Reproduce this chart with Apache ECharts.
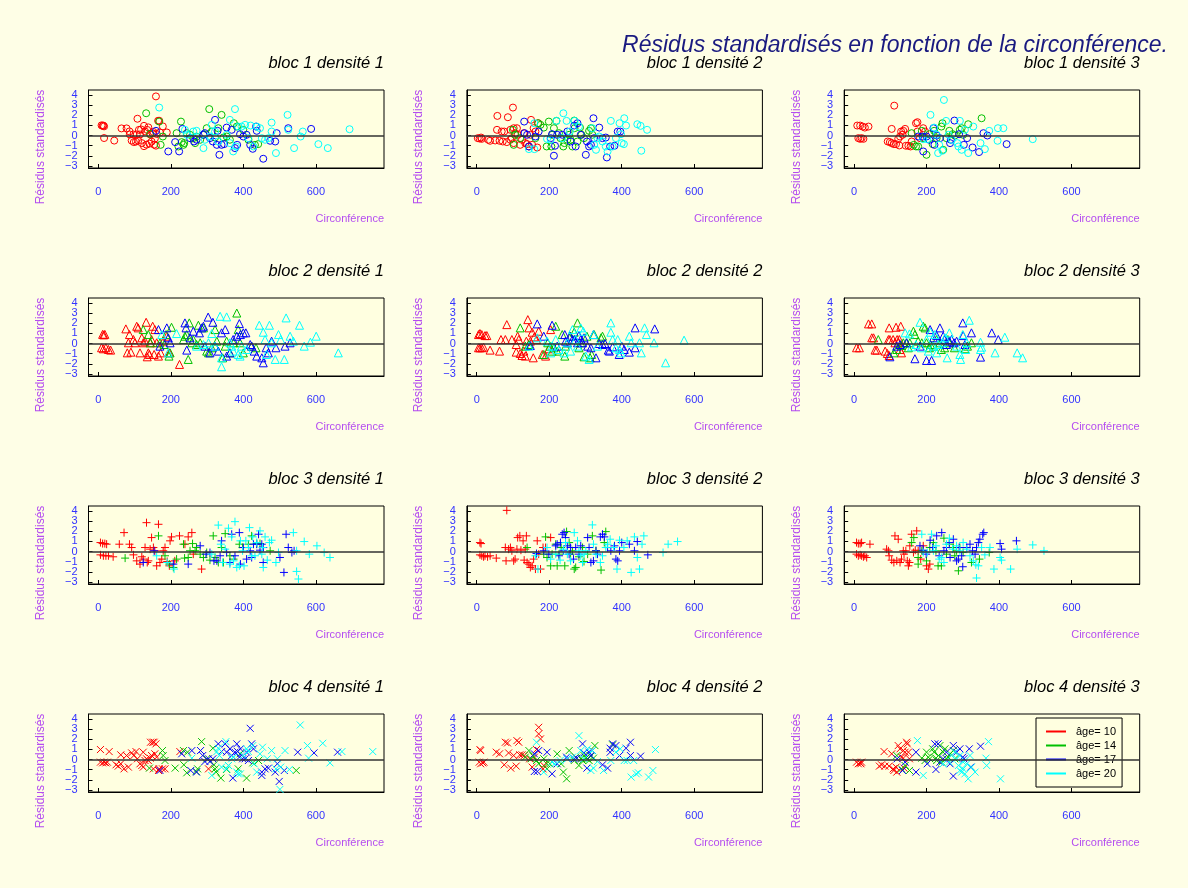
<!DOCTYPE html>
<html><head><meta charset="utf-8">
<script src="https://cdn.jsdelivr.net/npm/echarts@6.0.0/dist/echarts.min.js"></script>
<style>html,body{margin:0;padding:0;background:#fefee6}#c{width:1188px;height:888px}</style>
</head><body><div id="c"></div>
<script>
const mainTitle = 'Résidus standardisés en fonction de la circonférence.';
const xName = 'Circonférence';
const yName = 'Résidus standardisés';
const ages = ['âge= 10', 'âge= 14', 'âge= 17', 'âge= 20'];
const ageColors = ['#ff0000', '#00c000', '#0000ff', '#00ffff'];
const blocs = [1, 2, 3, 4];
const densites = [1, 2, 3];
const xTicks = [0, 200, 400, 600];
const yTicks = [-3, -2, -1, 0, 1, 2, 3, 4];

// bloc 1
const b1d1_a10 = [[9,1.0],[12,0.95],[14,0.98],[16,0.9],[16,-0.25],[44,-0.5],[64,0.7],[78,0.7],[86,0.4],[87,0.1],[92,-0.5],[97,0.1],[98,-0.65],[104,-0.6],[106,0.1],[108,1.65],[110,-0.5],[112,0.55],[115,0.1],[118,0.6],[120,-0.75],[126,0.95],[126,-1.05],[129,0.4],[133,-0.9],[135,0.55],[138,0.8],[141,-0.8],[143,0.1],[147,-0.6],[150,0.2],[152,0.35],[154,-0.9],[156,-0.3],[159,3.85],[159,-1.0],[161,0.15],[165,1.45],[168,1.45],[170,0.3],[178,0.9],[189,0.3]];
const b1d1_a14 = [[132,2.19],[143,0.16],[168,1.37],[172,-0.92],[178,-0.1],[216,0.23],[221,-1.08],[230,-0.65],[235,-0.92],[237,-0.75],[228,1.37],[244,0.23],[253,0.07],[262,-0.26],[267,-0.75],[271,-0.1],[281,-0.42],[290,0.07],[299,0.72],[306,2.6],[313,0.39],[322,-0.2],[331,0.72],[340,2.03],[345,-0.2],[354,-0.1],[363,-0.42],[374,1.21],[382,0.88],[400,0.56],[414,-0.42],[432,-0.92],[441,-0.85]];
const b1d1_a17 = [[159,0.46],[193,-1.57],[212,-0.65],[223,-1.57],[232,0.65],[253,-0.26],[264,-0.59],[271,-0.42],[290,0.07],[294,0.23],[308,-0.26],[316,-0.59],[322,1.54],[327,-0.92],[329,0.46],[334,-1.9],[340,-0.92],[347,-0.85],[354,0.78],[368,0.56],[377,-1.24],[383,-0.92],[391,0.13],[400,-0.1],[409,0.07],[419,-0.92],[426,-1.31],[435,0.88],[437,0.46],[455,-2.29],[474,-0.52],[488,-0.59],[492,0.23],[524,0.72],[587,0.65]];
const b1d1_a20 = [[168,2.75],[239,0.56],[244,0.07],[262,0.39],[271,0.46],[290,-1.24],[294,-0.42],[308,-0.1],[313,1.05],[322,0.39],[331,-0.59],[354,0.07],[363,1.54],[363,-0.75],[372,-1.57],[377,2.6],[380,-1.08],[386,0.88],[395,0.88],[405,1.05],[414,-0.26],[420,0.98],[428,-1.08],[437,0.88],[446,0.72],[451,-0.26],[460,-0.42],[469,-0.26],[478,1.27],[478,0.39],[490,-1.73],[522,2.03],[524,0.56],[540,-1.24],[558,-0.1],[564,0.39],[607,-0.85],[633,-1.24],[693,0.62]];
const b1d2_a10 = [[3,-0.26],[8,-0.3],[12,-0.2],[14,-0.33],[32,-0.42],[37,-0.52],[51,-0.49],[57,1.93],[63,-0.52],[72,-0.59],[76,0.39],[83,-0.65],[86,1.8],[93,-0.42],[97,-0.26],[100,2.75],[102,-0.75],[111,0.72],[113,0.07],[120,-0.92],[125,-0.42],[130,0.23],[134,-0.75],[139,-0.85],[144,-1.08],[148,0.07],[150,1.54],[153,-0.92],[157,0.72],[162,0.39],[167,-1.18],[170,1.21],[56,0.56],[69,0.39],[93,0.56],[102,0.72],[106,0.23]];
const b1d2_a14 = [[100,0.56],[102,-0.92],[106,0.07],[120,-0.26],[162,-0.26],[169,1.21],[176,1.05],[185,0.78],[193,-1.08],[199,1.37],[206,-1.08],[208,0.07],[213,0.72],[220,1.44],[227,0.23],[231,-0.26],[239,-1.08],[242,-0.75],[250,-0.42],[255,0.07],[259,-0.42],[264,-1.08],[269,1.47],[270,0.72],[278,-0.59],[285,0.78],[289,0.07],[296,-0.26],[310,0.46],[315,0.72],[319,0.07]];
const b1d2_a17 = [[131,1.37],[132,0.23],[139,0.07],[144,-1.08],[162,-0.1],[171,0.39],[204,-0.26],[208,0.13],[213,-1.99],[216,-1.01],[222,0.07],[236,0.07],[250,0.39],[259,-0.59],[269,0.98],[273,-1.08],[278,1.21],[287,0.07],[301,-1.9],[304,-0.59],[310,-1.08],[315,-0.92],[322,1.7],[324,-0.26],[338,0.78],[347,-0.26],[356,-0.2],[359,-2.16],[368,-1.08],[380,-1.01],[389,0.39],[396,0.39]];
const b1d2_a20 = [[144,-1.34],[159,-1.34],[159,1.21],[194,-0.33],[204,-0.42],[220,1.44],[236,-0.26],[239,2.19],[248,1.44],[257,0.39],[270,1.44],[282,0.88],[319,0.72],[324,-0.92],[329,-1.41],[333,-0.26],[338,-0.1],[347,-0.59],[356,-1.08],[361,-1.57],[370,1.44],[375,-1.08],[384,-0.26],[394,1.21],[398,0.13],[400,-0.75],[406,-0.85],[407,1.7],[412,0.98],[443,1.11],[452,0.95],[470,0.56],[454,-1.5]];
const b1d3_a10 = [[9,0.98],[17,0.98],[24,0.88],[30,0.78],[40,0.88],[12,-0.26],[17,-0.33],[21,-0.26],[26,-0.33],[93,-0.59],[99,-0.65],[104,-0.75],[110,-0.85],[116,-0.85],[104,0.65],[111,2.94],[122,-0.33],[125,-0.98],[127,-0.1],[130,0.39],[134,0.07],[136,0.46],[141,0.65],[143,-1.01],[150,-1.01],[156,-1.08],[159,-0.59],[171,1.21],[175,1.31],[175,0.39],[182,-0.26],[191,0.72],[196,0.39]];
const b1d3_a14 = [[159,0.23],[165,-0.92],[171,-1.08],[177,-1.08],[187,0.46],[191,-0.26],[200,-1.9],[208,0.13],[217,-0.85],[221,0.46],[228,-0.26],[241,0.88],[244,1.21],[246,-1.41],[255,-0.26],[263,0.46],[272,0.13],[278,0],[292,0.56],[297,0.72],[301,0.07],[315,1.11],[352,1.7]];
const b1d3_a17 = [[177,-0.1],[189,-0.1],[191,-1.57],[200,-0.1],[208,-0.42],[219,0.72],[222,-0.92],[228,0],[237,-0.26],[265,-0.75],[267,-0.42],[277,1.47],[290,0.13],[303,-0.92],[312,-0.26],[327,-1.18],[345,-1.63],[357,0.23],[368,0],[421,-0.85]];
const b1d3_a20 = [[191,-0.36],[202,-0.36],[211,2.03],[221,0.78],[228,0.07],[232,-1.73],[235,-0.92],[244,-1.5],[248,3.5],[254,1.44],[261,0.07],[270,-0.42],[285,-0.75],[288,-1.08],[292,1.44],[297,-1.41],[306,0.56],[315,-1.73],[329,0.88],[349,-0.75],[361,-1.34],[373,0.46],[396,-0.52],[397,0.72],[412,0.72],[493,-0.36]];
// bloc 2
const b2d1_a10 = [[12,0.9],[15,0.85],[18,0.9],[9,-0.42],[14,-0.52],[21,-0.42],[28,-0.59],[34,-0.65],[76,1.44],[83,0.07],[86,0.88],[80,-0.92],[90,-0.85],[97,0.39],[101,0.07],[106,1.7],[110,1.54],[115,-0.92],[120,0.56],[124,0.07],[129,0.23],[132,2.09],[135,-1.31],[138,-0.92],[141,-1.08],[143,0.07],[147,0.39],[150,1.7],[154,-1.08],[156,1.37],[161,0.07],[166,-1.24],[172,-0.92],[179,0.23],[189,0.72],[196,-0.92],[224,-2.06]];
const b2d1_a14 = [[124,1.37],[138,0.88],[144,0.07],[170,0.07],[182,-0.1],[187,0.88],[195,-1.24],[202,1.6],[198,-0.92],[235,0.39],[239,0.72],[244,0.88],[248,-1.57],[251,2.03],[258,0.07],[262,0.39],[271,-0.1],[276,1.8],[281,0.07],[290,1.54],[299,-0.75],[304,-0.92],[313,-0.42],[322,1.37],[327,0.23],[343,-1.41],[350,-0.26],[354,0.23],[363,-0.92],[373,0.07],[382,3.0],[386,1.37],[391,0.07],[400,-0.92],[423,-0.26],[435,-0.42]];
const b2d1_a17 = [[166,1.37],[170,-0.26],[189,1.54],[193,0.56],[198,0.07],[239,2.03],[242,1.54],[244,-0.65],[253,0.56],[262,1.21],[279,1.05],[285,1.54],[290,1.7],[294,-0.26],[303,2.6],[308,-0.92],[316,2.09],[322,-0.26],[331,-0.75],[340,1.05],[350,1.37],[354,-1.24],[363,-0.92],[372,0.39],[382,0.72],[389,1.96],[392,0.88],[400,1.05],[407,1.05],[419,-0.1],[423,-0.26],[430,-0.75],[437,-1.24],[451,-1.41],[455,-1.9],[463,-0.42],[469,-0.92],[478,0.23],[490,-0.42],[515,-0.26],[529,0.07]];
const b2d1_a20 = [[175,0.88],[193,-0.92],[216,0.98],[271,-0.26],[290,-0.1],[304,0.07],[313,0.98],[322,-0.26],[336,2.68],[340,-2.29],[340,-1.41],[354,2.62],[363,0.07],[368,-0.26],[372,-0.75],[386,-1.08],[391,-1.24],[395,-0.26],[409,-0.59],[444,1.8],[455,1.11],[460,0.39],[464,-1.08],[472,1.8],[478,0.07],[488,-1.57],[497,0.88],[503,0.39],[513,-1.57],[518,2.52],[529,0.72],[538,0.23],[555,1.8],[568,-0.26],[585,0.13],[601,0.72],[662,-0.92]];
const b2d2_a10 = [[5,0.88],[9,0.98],[14,0.88],[23,0.78],[28,0.78],[5,-0.42],[9,-0.42],[14,-0.42],[19,-0.36],[37,-0.65],[63,-0.75],[67,0.39],[79,0.39],[83,1.86],[97,0.39],[109,-0.1],[109,-0.85],[113,0.72],[116,0.39],[120,-0.98],[125,-1.18],[130,-0.75],[134,-1.24],[137,0.23],[141,2.35],[144,1.54],[148,0.23],[153,1.11],[156,-1.41],[159,0.65],[165,0.39],[171,1.21],[181,-1.08],[190,-1.24],[199,-0.52],[204,1.37]];
const b2d2_a14 = [[120,1.54],[134,-0.26],[144,-0.1],[185,-1.08],[196,0.07],[202,-0.26],[208,-0.75],[213,-0.42],[218,1.7],[222,-0.75],[236,0.88],[243,-1.24],[245,-0.26],[250,0.07],[259,0.72],[269,1.11],[278,2.03],[282,-0.42],[287,0.07],[296,-1.31],[304,0.72],[313,-1.41],[317,-1.08],[324,0.88],[343,0.56],[347,0.72]];
const b2d2_a17 = [[148,-0.2],[167,1.93],[185,0.72],[208,1.8],[222,-0.26],[243,0.88],[245,0.23],[250,0.07],[257,0.72],[264,0.39],[270,0.39],[278,0.07],[282,0.78],[287,0.39],[292,0.07],[296,0.56],[306,-0.26],[315,-0.42],[322,0.88],[329,-1.41],[338,0],[347,-0.1],[354,0],[363,-0.65],[366,-0.75],[375,-0.33],[393,-1.08],[400,-0.26],[407,-0.59],[421,-0.85],[437,1.54],[437,-0.42],[491,1.44]];
const b2d2_a20 = [[144,-0.26],[167,0.56],[194,0.23],[204,-0.92],[208,-0.26],[218,0.39],[227,-0.59],[241,-0.92],[250,0.07],[259,-0.75],[264,1.37],[273,0.39],[278,-0.26],[287,1.54],[294,1.21],[301,-1.24],[310,-1.57],[322,0.88],[333,-0.26],[370,2.03],[370,1.11],[375,0.39],[384,-0.42],[389,0.39],[394,-0.59],[398,-0.92],[421,0.72],[426,0.07],[449,0.07],[454,-0.92],[463,1.54],[468,0.88],[489,0.07],[521,-1.9],[572,0.33]];
const b2d3_a10 = [[7,-0.42],[15,-0.42],[40,1.93],[49,1.93],[49,0.56],[54,0.56],[58,-0.65],[63,-0.65],[86,-0.75],[92,-0.98],[97,-1.18],[97,1.54],[108,0.39],[116,1.6],[119,0.39],[125,0.39],[129,1.7],[131,-0.92],[95,0.39],[99,0.39],[113,0.07],[122,0.07],[127,-0.59]];
const b2d3_a14 = [[67,0.39],[110,-0.92],[118,-0.59],[131,-0.2],[136,0.07],[145,0.07],[150,-0.42],[154,0.07],[164,1.21],[168,0.88],[177,0.23],[187,0.07],[191,1.7],[196,1.54],[200,0.07],[208,-0.42],[211,-0.1],[219,-0.26],[228,0.39],[237,0.07],[241,-0.59],[250,-0.42],[259,0.39],[263,0.07],[277,-0.42],[306,-0.52],[313,-0.26],[324,0.07]];
const b2d3_a17 = [[99,-1.31],[118,-0.26],[127,-0.1],[145,0.07],[168,-1.5],[182,-0.26],[200,-1.67],[214,-1.67],[210,1.37],[219,0.56],[228,0.78],[237,1.54],[246,0.72],[250,0.39],[255,-0.1],[263,0.23],[269,0.39],[276,0.07],[283,0.23],[300,2.03],[301,0.78],[306,-0.1],[324,1.05],[349,-1.34],[380,1.05],[398,0.39]];
const b2d3_a20 = [[141,1.05],[153,0.95],[159,-0.33],[171,-0.1],[182,2.09],[186,-0.42],[200,0.39],[205,-0.75],[211,1.11],[219,-0.26],[223,0.88],[228,-0.92],[232,-0.1],[244,0.07],[251,0.56],[257,-1.41],[263,1.05],[283,-0.26],[292,-1.08],[294,-1.57],[300,0.88],[308,-0.59],[311,0.07],[318,2.29],[349,0.13],[349,-0.59],[352,-0.36],[389,-0.92],[416,0.62],[450,-0.92],[465,-1.41]];
// bloc 3
const b3d1_a10 = [[6,0.88],[12,0.78],[18,0.78],[23,0.72],[6,-0.33],[14,-0.42],[21,-0.42],[28,-0.42],[41,-0.52],[58,0.72],[71,1.86],[86,0.72],[92,0.39],[97,-0.33],[106,-0.92],[115,-1.24],[120,-0.52],[124,-0.75],[129,0.39],[133,2.84],[135,-1.08],[138,-0.92],[143,0.23],[147,1.37],[152,0.39],[156,0.07],[161,-1.41],[166,2.68],[170,-1.08],[175,-0.75],[179,0.07],[184,0.39],[190,-0.98],[196,-1.41],[198,1.05],[202,1.44],[211,-0.92],[224,1.54],[239,0.72],[248,1.44],[258,1.86],[262,-0.26],[285,-1.73]];
const b3d1_a14 = [[74,-0.65],[166,1.54],[184,-0.42],[196,-1.24],[207,-1.57],[216,-0.75],[235,0.72],[238,-0.65],[248,-0.59],[253,0.07],[260,0.78],[267,0.07],[271,0.39],[281,-0.26],[290,-0.59],[299,-0.1],[308,-0.85],[317,1.54],[322,-0.59],[331,-1.08],[340,0.39],[345,-1.08],[350,1.76],[363,-0.42],[373,-0.75],[389,0.72],[398,0.39],[414,0.72],[423,1.54],[437,0.78],[446,0.78],[474,0.07]];
const b3d1_a17 = [[124,-1.08],[154,0.07],[207,-1.24],[248,-1.24],[281,0.56],[297,-0.26],[308,-0.1],[319,-0.92],[327,-0.92],[336,-0.42],[340,1.05],[354,-0.1],[363,-1.08],[368,1.7],[377,-0.42],[389,1.86],[392,-1.24],[400,0.39],[409,-0.75],[419,0.07],[423,-0.59],[428,0.72],[437,0.72],[442,1.7],[446,0.13],[451,0.72],[455,-1.08],[455,0.39],[501,-0.59],[512,-2.06],[518,1.7],[524,0.39],[534,-0.1],[540,0.07]];
const b3d1_a20 = [[161,-0.42],[190,-1.08],[209,-1.73],[313,-0.26],[331,2.6],[338,0.72],[343,-1.08],[350,0.23],[359,2.29],[363,-1.24],[368,1.44],[373,-0.92],[377,2.94],[382,-1.57],[389,-1.41],[392,1.05],[398,0.07],[402,-1.41],[407,1.05],[414,0.39],[417,2.35],[423,-0.42],[426,1.44],[432,-0.42],[437,0.88],[446,2.03],[451,-0.26],[453,0.39],[455,-1.57],[460,1.44],[466,-0.85],[472,0.88],[478,1.11],[490,-1.08],[497,-0.1],[538,1.86],[547,0.07],[568,0.98],[582,-0.26],[603,0.56],[623,-0.1],[639,-0.59],[547,-1.96],[552,-2.71]];
const b3d2_a10 = [[9,0.88],[12,0.78],[9,-0.33],[14,-0.42],[19,-0.52],[23,-0.42],[30,-0.52],[37,-0.42],[54,-0.65],[83,4.05],[79,0.39],[81,-0.92],[88,0.23],[93,0.39],[97,0.07],[102,-0.92],[106,-0.75],[111,0.23],[113,1.37],[119,1.54],[122,0.13],[128,1.05],[131,-0.85],[134,0.23],[137,1.54],[139,-1.08],[144,-1.24],[148,-1.57],[153,-1.41],[157,-0.75],[162,-1.73],[167,1.05],[171,-0.26],[176,-1.73],[183,0.39],[190,0.39],[204,1.37]];
const b3d2_a14 = [[139,0.39],[185,-0.26],[190,1.44],[194,-0.59],[204,-1.41],[208,-0.26],[218,0.72],[222,-1.41],[227,-0.26],[233,0.39],[243,-1.41],[248,1.96],[255,0.88],[259,-0.26],[264,0.07],[269,-1.73],[273,-1.57],[282,-0.52],[292,0.39],[296,-0.98],[306,-0.26],[319,1.54],[329,0.07],[343,-1.83],[352,0.88],[356,1.96]];
const b3d2_a17 = [[165,-0.2],[185,0.07],[199,-0.26],[218,0.56],[222,0.72],[227,-0.42],[231,0.88],[236,1.7],[239,0.07],[241,1.86],[245,1.37],[250,0.56],[255,-0.26],[259,0.39],[267,-0.75],[273,0.39],[282,-0.26],[287,0.56],[306,1.37],[310,0.39],[315,-1.08],[322,-0.92],[329,0.07],[333,-0.26],[341,1.44],[347,1.7],[352,1.44],[361,0.39],[370,0.07],[380,0.56],[384,-0.75],[389,-0.92],[394,0.07],[400,0.88],[421,0.72],[435,0.07],[443,0.98],[472,-0.33]];
const b3d2_a20 = [[162,-0.42],[169,-1.73],[194,0.39],[204,-0.75],[218,-0.26],[230,-0.85],[239,0.23],[245,0.88],[250,-0.26],[259,-0.92],[269,1.86],[278,1.05],[282,0.07],[287,-0.42],[292,-1.08],[296,-0.26],[301,0.07],[319,2.62],[322,0.72],[329,-0.26],[341,-1.08],[347,-0.42],[356,0.39],[361,0.72],[368,1.21],[378,0.39],[387,-1.73],[394,1.11],[406,0.39],[415,1.05],[426,-2.06],[435,1.44],[443,-0.59],[449,-1.73],[456,0.72],[461,1.54],[514,-0.1],[528,0.72],[554,0.98]];
const b3d3_a10 = [[7,0.88],[12,0.78],[17,0.78],[21,0.88],[44,0.72],[7,-0.26],[12,-0.42],[17,-0.33],[21,-0.42],[26,-0.52],[30,-0.42],[35,-0.59],[90,0.23],[95,0.07],[97,-0.42],[104,-0.85],[110,-1.08],[113,1.54],[118,-0.92],[122,1.21],[127,-1.08],[131,-0.75],[136,0.07],[138,-0.26],[143,0.07],[147,-0.92],[150,-1.41],[153,-1.08],[154,0.56],[159,1.7],[164,-0.1],[169,0.13],[173,2.03],[177,0.07],[184,-0.75],[191,0.56],[200,-1.41],[205,-1.73],[209,-1.24]];
const b3d3_a14 = [[159,0.88],[165,1.37],[177,-0.59],[177,-1.24],[187,0.07],[200,-0.92],[209,0.39],[219,0.88],[226,0.07],[232,-1.41],[241,-1.41],[248,1.31],[255,-0.26],[263,0.72],[274,0.39],[278,-0.42],[283,0.07],[288,-1.9],[292,0.39],[301,-0.1],[324,-1.08],[346,-0.75],[373,-0.1]];
const b3d3_a17 = [[182,0.56],[191,0.13],[199,-0.26],[210,1.11],[217,0.39],[228,1.54],[235,-0.42],[242,1.86],[248,0.07],[255,0.39],[263,0.88],[265,-0.59],[274,1.21],[283,-0.92],[288,-0.75],[290,0.39],[297,-0.42],[300,-1.5],[311,0.39],[320,0.72],[327,0.07],[334,-0.26],[338,0.39],[343,0.88],[347,1.21],[355,1.7],[358,1.86],[403,0.78],[407,0.23],[448,1.05]];
const b3d3_a20 = [[187,1.7],[191,-0.1],[202,-0.1],[214,1.7],[219,0.07],[226,0.56],[235,-0.75],[241,-0.59],[248,-1.08],[255,0.72],[263,1.31],[272,0.23],[283,0.56],[292,0.07],[301,0.88],[311,0.23],[320,-0.42],[329,-0.92],[336,-1.31],[338,-2.61],[343,-1.41],[352,0.39],[361,-0.33],[375,0.39],[386,-1.73],[403,-0.59],[407,-0.85],[432,-1.73],[450,0.23],[493,0.65],[524,0.07]];
// bloc 4
const b4d1_a10 = [[6,0.98],[30,0.78],[6,-0.26],[12,-0.33],[16,-0.26],[21,-0.33],[25,-0.26],[49,-0.52],[55,-0.65],[62,0.46],[62,-0.42],[71,-0.92],[78,0.39],[83,-0.75],[92,0.65],[98,0.39],[104,0.78],[108,0.07],[115,-0.42],[120,-0.59],[124,-0.75],[129,-0.1],[133,0.07],[138,-0.1],[143,0.13],[144,1.7],[150,1.7],[154,1.7],[159,1.54],[147,0.39],[152,-0.92],[156,0.56],[161,0.23],[166,-1.08],[168,-0.92],[177,-0.92],[184,-0.92],[124,0.72],[225,0.78],[304,-0.92]];
const b4d1_a14 = [[141,-0.85],[177,0.88],[179,0.39],[184,-0.1],[212,-0.85],[235,0.88],[236,-0.52],[244,-1.31],[246,0.72],[270,-1.18],[274,-0.92],[285,1.76],[299,0.07],[316,1.11],[319,-0.52],[322,-0.92],[325,-1.24],[338,-1.83],[354,-0.98],[359,-0.59],[386,-0.92],[391,0.56],[409,-1.83],[426,-0.33],[442,-0.1],[546,-1.08]];
const b4d1_a17 = [[170,-1.08],[230,0.56],[255,-1.08],[258,0.88],[271,-1.24],[282,0.88],[288,0.39],[294,-0.2],[304,0.07],[308,-0.2],[316,0.07],[331,1.54],[340,0.78],[350,1.54],[354,0.72],[363,1.05],[368,0.39],[371,-1.83],[377,0.72],[382,1.54],[384,0.78],[389,0.23],[392,1.05],[398,0.07],[405,0.07],[409,0.72],[414,-0.1],[419,3.07],[423,1.54],[428,1.05],[451,-1.24],[451,-1.57],[460,-0.92],[469,-0.85],[488,-1.24],[494,-0.42],[499,-2.16],[513,-1.08],[550,0.72],[595,0.65],[660,0.72]];
const b4d1_a20 = [[258,0.13],[313,-1.57],[327,0.78],[331,1.11],[334,0.39],[340,-0.75],[352,1.76],[354,-0.92],[359,-0.59],[368,0.07],[373,0.23],[382,-1.24],[386,-1.41],[392,-1.41],[400,0.39],[409,1.05],[414,0.78],[426,1.37],[430,-0.42],[437,-1.24],[446,0.56],[453,1.21],[466,0.07],[478,0.88],[490,-0.92],[494,0.07],[501,-2.94],[503,-0.75],[515,0.88],[527,-0.98],[557,3.4],[577,1.37],[580,0.13],[619,1.6],[639,-0.33],[672,0.78],[757,0.78]];
const b4d2_a10 = [[9,0.98],[11,0.88],[7,-0.26],[11,-0.42],[17,-0.33],[20,-0.26],[54,0.72],[63,0.56],[76,-0.52],[79,1.7],[85,1.63],[88,0.65],[94,-0.85],[102,0.39],[109,-0.65],[111,1.86],[116,1.7],[119,0.46],[125,0.46],[131,0.39],[146,0.07],[153,-0.75],[159,0.23],[165,0.98],[171,3.17],[171,2.52],[176,2.03],[183,-0.92],[185,-0.59]];
const b4d2_a14 = [[144,0.88],[134,0.23],[150,0.07],[155,0.39],[165,-0.1],[171,-0.42],[185,0.07],[193,-0.42],[194,-0.92],[202,-0.42],[222,0.56],[233,-0.42],[239,-1.24],[248,-1.9],[255,0.88],[269,-0.1],[273,0.23],[282,-0.59],[289,0.07],[292,-0.1],[296,0.39],[301,0.13],[306,0.07],[310,-0.1],[315,0.33],[322,0.13],[326,1.37],[375,1.44]];
const b4d2_a17 = [[159,0.56],[159,-1.18],[167,-1.18],[171,0.88],[194,0.72],[208,-1.41],[222,-0.42],[248,0.23],[250,0.07],[269,0.07],[276,0.13],[292,1.54],[296,0.65],[304,-0.85],[310,0.72],[315,0.39],[319,0.88],[347,-0.52],[361,-0.85],[368,0.72],[368,1.11],[375,1.54],[384,1.37],[394,0.39],[412,1.11],[424,1.7],[424,0.39],[452,0.33]];
const b4d2_a20 = [[165,1.7],[185,-1.24],[208,-0.26],[215,-0.42],[230,-0.1],[250,0.07],[264,0.23],[282,2.35],[287,0.88],[296,0.07],[306,1.05],[315,-1.08],[319,0.88],[322,-0.85],[333,-0.2],[350,-1.08],[370,-0.1],[384,0.72],[396,1.05],[407,-0.1],[415,-0.1],[426,-1.73],[433,-0.1],[440,-1.41],[446,-1.31],[474,-1.73],[486,-1.08],[493,0.98]];
const b4d3_a10 = [[7,-0.26],[12,-0.42],[17,-0.33],[21,-0.26],[19,-0.42],[70,-0.65],[76,-0.52],[83,0.78],[85,-0.65],[97,-0.65],[104,0.56],[108,-0.92],[110,-1.08],[116,-0.75],[118,-1.24],[122,1.37],[127,1.05],[131,0.23],[136,0.88],[138,-0.85],[141,0.72],[145,1.7],[147,1.54],[150,0.72],[153,0.07],[136,0.13]];
const b4d3_a14 = [[118,0.39],[131,-0.92],[141,-0.59],[153,-1.08],[187,0.13],[196,-0.1],[200,0.72],[205,0.23],[209,0.07],[217,1.05],[221,0.72],[226,0.13],[228,-0.1],[233,0.39],[237,1.37],[242,-0.26],[246,0.72],[251,1.05],[255,0.07],[260,0.23],[265,0.56],[274,0.88],[278,0.07]];
const b4d3_a17 = [[119,0.07],[134,-1.08],[141,-0.26],[171,0.72],[171,-1.24],[202,-0.42],[223,1.54],[226,-0.98],[232,1.54],[237,-0.26],[246,0.07],[255,0.72],[265,-0.42],[274,1.37],[274,-1.63],[283,0.72],[292,1.05],[300,0.23],[303,0.07],[318,1.05],[322,-0.75],[349,1.31]];
const b4d3_a20 = [[175,1.86],[191,-1.57],[246,-0.42],[263,-0.26],[269,0.39],[278,0.72],[283,0.07],[292,-1.08],[297,-1.24],[301,-0.92],[306,-1.41],[315,-1.9],[324,-0.75],[334,-1.24],[364,0.13],[366,-0.59],[371,1.76],[404,-1.9],[301,-0.26],[311,-0.42],[320,0.39],[292,0.39],[288,-0.59]];

const panelData = [
  [[b1d1_a10,b1d1_a14,b1d1_a17,b1d1_a20],[b1d2_a10,b1d2_a14,b1d2_a17,b1d2_a20],[b1d3_a10,b1d3_a14,b1d3_a17,b1d3_a20]],
  [[b2d1_a10,b2d1_a14,b2d1_a17,b2d1_a20],[b2d2_a10,b2d2_a14,b2d2_a17,b2d2_a20],[b2d3_a10,b2d3_a14,b2d3_a17,b2d3_a20]],
  [[b3d1_a10,b3d1_a14,b3d1_a17,b3d1_a20],[b3d2_a10,b3d2_a14,b3d2_a17,b3d2_a20],[b3d3_a10,b3d3_a14,b3d3_a17,b3d3_a20]],
  [[b4d1_a10,b4d1_a14,b4d1_a17,b4d1_a20],[b4d2_a10,b4d2_a14,b4d2_a17,b4d2_a20],[b4d3_a10,b4d3_a14,b4d3_a17,b4d3_a20]]
];

// ---- presentation ----
const FONT = '"Liberation Sans", Arial, Helvetica, sans-serif';
const plotBg = '#ffffe0';
const violet = '#b44cf0';
const tickBlue = '#3333ff';
const symbols = ['circle', 'triangle', 'path://M0,5L10,5M5,0L5,10', 'path://M0,0L10,10M0,10L10,0'];
const symbolSizes = [7, 8, 8, 7];
const colLeft = [88.5, 466.9, 844.2];
const rowTop = [90, 298, 506, 714];
const W = 295.5, H = 78;
// labels split over two overlaid axes so that ECharts does not drop any of them
const yOdd = yTicks.filter(v => Math.abs(v) % 2 === 1);
const yEven = yTicks.filter(v => Math.abs(v) % 2 === 0);

const grids = [], xAxes = [], yAxes = [], series = [], titles = [], graphics = [];
titles.push({text: mainTitle, right: 20, top: 34, padding: 0,
  textStyle: {fontSize: 23, fontStyle: 'italic', fontWeight: 'normal', color: '#1a1a80', fontFamily: FONT}});

function yAxisDef(p, labels, main) {
  return {type: 'value', gridIndex: p, min: -3.2, max: 4.48, position: 'left', offset: 0,
    axisLine: {show: main, onZero: false, lineStyle: {color: '#000', width: 1}},
    axisTick: {show: main, inside: true, length: 4, customValues: yTicks, lineStyle: {color: '#000'}},
    axisLabel: {show: true, customValues: labels, margin: 11, color: tickBlue, fontSize: 11,
      fontFamily: FONT, showMinLabel: true, showMaxLabel: true, hideOverlap: false,
      formatter: v => String(v).replace('-', '\u2212')},
    splitLine: {show: false}};
}

blocs.forEach((b, r) => {
  densites.forEach((d, c) => {
    const p = grids.length;
    const L = colLeft[c], T = rowTop[r];
    grids.push({left: L, top: T, width: W, height: H, show: true, backgroundColor: plotBg,
      borderColor: '#000', borderWidth: 1, containLabel: false});
    xAxes.push({type: 'value', gridIndex: p, min: -27, max: 788, position: 'bottom',
      axisLine: {show: true, onZero: false, lineStyle: {color: '#000', width: 1}},
      axisTick: {show: true, inside: true, length: 4, customValues: xTicks, lineStyle: {color: '#000'}},
      axisLabel: {show: true, customValues: xTicks, margin: 18, color: tickBlue, fontSize: 11, fontFamily: FONT,
        showMinLabel: true, showMaxLabel: true, hideOverlap: false},
      splitLine: {show: false}});
    const yMain = yAxes.length;
    yAxes.push(yAxisDef(p, yOdd, true));
    yAxes.push(yAxisDef(p, yEven, false));
    titles.push({text: 'bloc ' + b + ' densité ' + d, right: 1188 - (L + W), top: T - 35, padding: 0,
      textStyle: {fontSize: 16.5, fontStyle: 'italic', fontWeight: 'normal', color: '#000', fontFamily: FONT}});
    graphics.push({type: 'text', x: L - 48, y: T + 57, rotation: Math.PI / 2,
      style: {text: yName, fill: violet, font: '12px ' + FONT, textAlign: 'center', textVerticalAlign: 'middle'}});
    graphics.push({type: 'text', x: L + W, y: T + 129,
      style: {text: xName, fill: violet, font: '11px ' + FONT, textAlign: 'right', textVerticalAlign: 'middle'}});
    ages.forEach((a, k) => {
      const s = {type: 'scatter', name: a, xAxisIndex: p, yAxisIndex: yMain,
        data: panelData[r][c][k], symbol: symbols[r], symbolSize: symbolSizes[r],
        itemStyle: {color: 'rgba(0,0,0,0)', borderColor: ageColors[k], borderWidth: 1, opacity: 1},
        emphasis: {disabled: true}, silent: true, z: 3};
      if (k === 0) {
        s.markLine = {silent: true, symbol: ['none', 'none'], label: {show: false}, animation: false,
          lineStyle: {color: '#333', width: 1.5, type: 'solid'}, emphasis: {disabled: true}, data: [{yAxis: 0}]};
      }
      series.push(s);
    });
  });
});

const chart = echarts.init(document.getElementById('c'), null, {renderer: 'canvas'});
chart.setOption({
  backgroundColor: '#fefee6',
  animation: false,
  textStyle: {fontFamily: FONT},
  title: titles,
  grid: grids,
  xAxis: xAxes,
  yAxis: yAxes,
  legend: {
    orient: 'vertical', left: 1036, top: 718, padding: [8, 6, 8, 10],
    itemWidth: 20, itemHeight: 2, itemGap: 3, icon: 'rect', selectedMode: false,
    backgroundColor: plotBg, borderColor: '#000', borderWidth: 1, borderRadius: 0,
    textStyle: {fontSize: 11, color: '#000', fontFamily: FONT, padding: [0, 0, 0, 5]},
    data: ages.map((a, i) => ({name: a, itemStyle: {color: ageColors[i], borderWidth: 0}}))
  },
  graphic: graphics,
  series: series
});
</script>
</body></html>
